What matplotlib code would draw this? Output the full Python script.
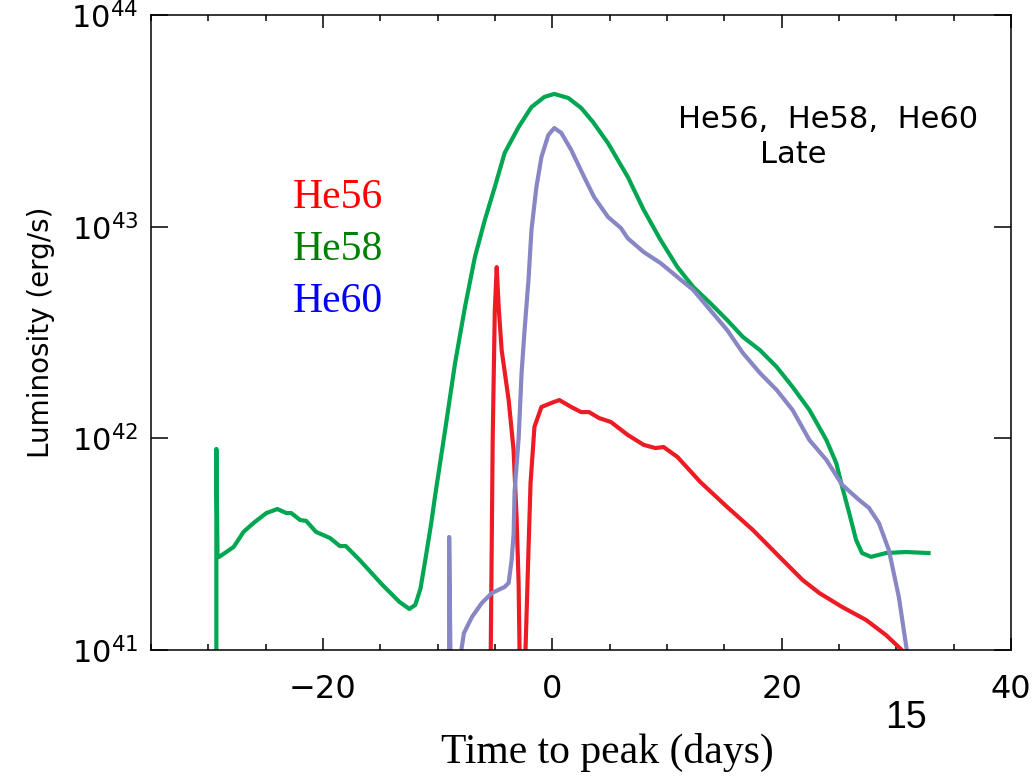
import numpy as np
import matplotlib
matplotlib.use("Agg")
import matplotlib.pyplot as plt
from matplotlib.ticker import FixedLocator, MultipleLocator, NullLocator

# ---- data (time to peak in days, log10 luminosity in erg/s) ----
he58_t = [-29.3, -29.3, -29.2, -29.05, -27.79, -26.93, -26.06, -24.94, -23.98, -23.20,
          -22.77, -21.99, -21.47, -20.61, -19.39, -18.53, -18.01, -16.80, -14.81, -13.33,
          -12.47, -11.95, -11.50, -11.08, -10.56, -10.22, -9.35, -8.48, -7.62, -6.75, -5.89,
          -5.02, -4.16, -2.94, -1.82, -0.69, 0.17, 1.39, 2.51, 3.55, 4.85,
          6.58, 7.97, 9.44, 10.91, 12.29, 13.77, 15.24, 16.62, 18.10, 19.57,
          20.95, 22.42, 23.90, 24.76, 25.28, 25.89, 26.49, 27.01, 27.79, 29.09,
          30.82, 32.81]
he58_logL = [40.5, 41.95, 41.44, 41.44, 41.487, 41.558, 41.600, 41.647, 41.666, 41.647,
             41.647, 41.614, 41.610, 41.558, 41.529, 41.491, 41.491, 41.425, 41.307, 41.227,
             41.194, 41.213, 41.29, 41.425, 41.600, 41.730, 42.039, 42.356, 42.620, 42.857, 43.031,
             43.187, 43.348, 43.471, 43.565, 43.613, 43.627, 43.608, 43.561, 43.494, 43.395,
             43.235, 43.079, 42.937, 42.809, 42.715, 42.639, 42.559, 42.479, 42.417, 42.337,
             42.243, 42.134, 41.992, 41.883, 41.770, 41.647, 41.520, 41.458, 41.440, 41.458,
             41.463, 41.458]

he60_t = [-9.0, -9.0, -8.85, -8.50, -7.71, -7.01, -6.15, -5.28, -4.16, -3.81,
          -3.55, -3.38, -3.29, -2.94, -2.68, -2.42, -2.08, -1.82, -1.39, -0.95,
          -0.35, 0.17, 0.78, 1.65, 2.77, 3.64, 4.85, 5.97, 6.58, 7.97,
          9.44, 10.91, 12.29, 13.77, 15.24, 16.62, 18.10, 19.57, 20.95, 22.42,
          23.90, 25.28, 26.75, 27.62, 28.48, 29.35, 30.22, 30.91, 31.20]
he60_logL = [40.5, 41.534, 40.8, 40.8, 41.080, 41.156, 41.222, 41.269, 41.298, 41.317,
             41.425, 41.543, 41.75, 42.00, 42.31, 42.512, 42.748, 42.984, 43.187, 43.329,
             43.433, 43.466, 43.443, 43.362, 43.235, 43.140, 43.046, 42.994, 42.945, 42.880,
             42.828, 42.762, 42.701, 42.606, 42.512, 42.403, 42.309, 42.228, 42.134, 41.992,
             41.898, 41.780, 41.709, 41.671, 41.600, 41.472, 41.250, 41.0, 40.8]

he56_t = [-5.45, -5.37, -5.20, -5.02, -4.85, -4.68, -4.42, -3.81, -3.38, -3.12,
          -2.94, -2.86, -2.77, -2.50, -2.34, -2.08, -1.90, -1.56, -0.95, -0.09,
          0.61, 1.65, 2.51, 3.20, 4.07, 5.11, 6.58, 7.97, 9.00, 9.70,
          10.91, 12.90, 15.24, 17.49, 19.83, 21.82, 23.29, 25.28, 27.36, 29.09,
          30.48, 31.00]
he56_logL = [40.5, 41.0, 42.0, 42.6, 42.809, 42.62, 42.417, 42.181, 41.945, 41.628,
             41.317, 41.0, 40.5, 40.5, 41.0, 41.472, 41.789, 42.054, 42.148, 42.167,
             42.181, 42.148, 42.124, 42.124, 42.096, 42.077, 42.016, 41.969, 41.954, 41.959,
             41.912, 41.794, 41.676, 41.567, 41.439, 41.331, 41.269, 41.203, 41.142, 41.071,
             41.0, 40.9]

x_major = [-20, 0, 20, 40]
y_major = [1e41, 1e42, 1e43, 1e44]
y_labels = [r"$10^{41}$", r"$10^{42}$", r"$10^{43}$", r"$10^{44}$"]

legend_names = ["He56", "He58", "He60"]
legend_colors = ["#ff0000", "#008000", "#0000ff"]

c_red = "#ed1c24"
c_green = "#00a651"
c_purple = "#8886c4"

# ---- figure ----
fig = plt.figure(figsize=(10.35, 7.78), dpi=100)
ax = fig.add_axes([151 / 1035, 1 - 650 / 778, (1011 - 151) / 1035, (650 - 15) / 778])

ax.plot(he56_t, 10 ** np.array(he56_logL), color=c_red, lw=3.0, solid_joinstyle="round")
ax.plot(he58_t, 10 ** np.array(he58_logL), color=c_green, lw=3.0, solid_joinstyle="round")
ax.plot(he60_t, 10 ** np.array(he60_logL), color=c_purple, lw=3.0, solid_joinstyle="round")

ax.set_yscale("log")
ax.set_xlim(-35, 40)
ax.set_ylim(1e41, 1e44)

ax.xaxis.set_major_locator(FixedLocator(x_major))
ax.xaxis.set_minor_locator(MultipleLocator(5))
ax.yaxis.set_major_locator(FixedLocator(y_major))
ax.yaxis.set_minor_locator(NullLocator())
ax.set_yticklabels(y_labels)

ax.tick_params(axis="both", which="both", direction="in", top=True, right=True,
               width=1.1, colors="black")
ax.tick_params(axis="x", which="major", length=9, pad=17, labelsize=23)
ax.tick_params(axis="x", which="minor", length=4.5)
ax.tick_params(axis="y", which="major", length=12.5, pad=9, labelsize=22)
for sp in ax.spines.values():
    sp.set_linewidth(1.1)

ax.set_ylabel("Luminosity (erg/s)", fontsize=20, labelpad=12)
fig.text(607 / 1035, 1 - 752 / 778, "Time to peak (days)", fontsize=30,
         family="Liberation Serif", ha="center", va="center")

# legend-like coloured labels
for i, (name, col) in enumerate(zip(legend_names, legend_colors)):
    ax.text(293 / 1035, 1 - (208 + 52 * i) / 778, name, transform=fig.transFigure,
            fontsize=30, family="Liberation Serif", color=col, ha="left", va="baseline")

fig.text(678 / 1035, 1 - 128 / 778, "He56,  He58,  He60", fontsize=22,
         ha="left", va="baseline")
fig.text(760 / 1035, 1 - 163 / 778, "Late", fontsize=22, ha="left", va="baseline")

fig.text(906 / 1035, 1 - 718 / 778, "15", fontsize=27, family="Liberation Sans",
         ha="center", va="center")

fig.savefig("out.png", dpi=100)
